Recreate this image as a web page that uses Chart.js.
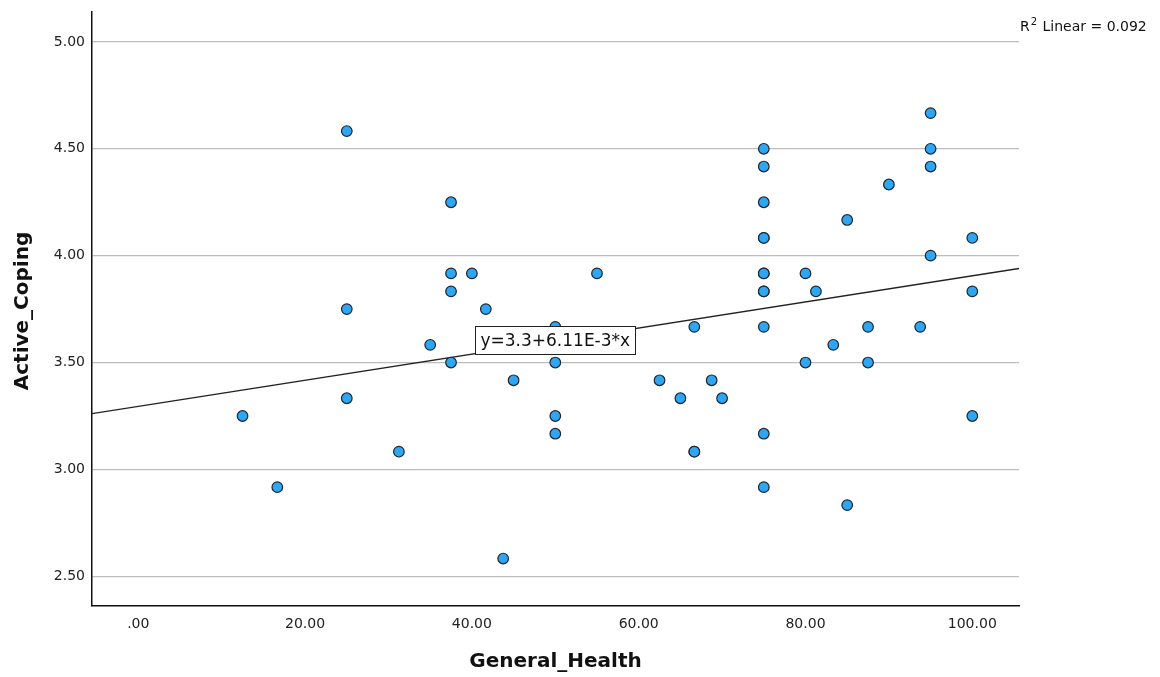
<!DOCTYPE html>
<html>
<head>
<meta charset="utf-8">
<script src="https://cdn.jsdelivr.net/npm/chart.js@4/dist/chart.umd.min.js"></script>
<style>
  html, body { margin: 0; padding: 0; background: #fff; }
  #wrap { width: 1160px; height: 677px; }
</style>
</head>
<body>
<div id="wrap"><canvas id="chart"></canvas></div>
<script>
"use strict";

// General_Health (x) / Active_Coping (y)
const healthX = [12.5, 16.67, 25, 25, 25, 31.25, 35, 37.5, 37.5, 37.5, 37.5, 40, 41.67, 43.75, 45,
  50, 50, 50, 50, 55, 62.5, 65, 66.67, 66.67, 66.67, 68.75, 70,
  75, 75, 75, 75, 75, 75, 75, 75, 75, 75, 75, 75,
  80, 80, 81.25, 83.33, 85, 85, 87.5, 87.5, 90, 93.75, 95, 95, 95, 95, 100, 100, 100];
const copingY = [3.25, 2.917, 4.583, 3.75, 3.333, 3.083, 3.583, 4.25, 3.917, 3.833, 3.5, 3.917, 3.75, 2.583, 3.417,
  3.667, 3.5, 3.25, 3.167, 3.917, 3.417, 3.333, 3.667, 3.083, 3.083, 3.417, 3.333,
  4.5, 4.417, 4.25, 4.083, 4.083, 3.917, 3.917, 3.833, 3.833, 3.667, 3.167, 2.917,
  3.917, 3.5, 3.833, 3.583, 4.167, 2.833, 3.667, 3.5, 4.333, 3.667, 4.667, 4.5, 4.417, 4.0, 4.083, 3.833, 3.25];

// fit line ends (y=3.3+6.11E-3*x) at the axis edges
const fitX = [-5.55, 105.6];
const fitY = [3.261, 3.940];

const xTicks = [0, 20, 40, 60, 80, 100];
const yTicks = [2.5, 3.0, 3.5, 4.0, 4.5, 5.0];
const xRange = [-5.55, 105.6];
const yRange = [2.361, 5.14];

const fitLabel = "y=3.3+6.11E-3*x";
const fitLabelAt = [50, 3.605];
const r2Text = "0.092";

function fmt(v) {
  let s = v.toFixed(2);
  return s.startsWith("0.") ? s.slice(1) : s;
}

const extras = {
  id: "extras",
  afterDatasetsDraw(chart) {
    const ctx = chart.ctx;
    const xs = chart.scales.x, ys = chart.scales.y;
    ctx.save();
    // equation box
    ctx.font = "17px 'DejaVu Sans'";
    const w = ctx.measureText(fitLabel).width;
    const cx = xs.getPixelForValue(fitLabelAt[0]);
    const cy = ys.getPixelForValue(fitLabelAt[1]);
    const bw = w + 10, bh = 28;
    ctx.fillStyle = "#fff";
    ctx.fillRect(cx - bw / 2, cy - bh / 2, bw, bh);
    ctx.strokeStyle = "#222";
    ctx.lineWidth = 1;
    ctx.strokeRect(Math.round(cx - bw / 2) + 0.5, Math.round(cy - bh / 2) + 0.5, Math.round(bw), bh);
    ctx.fillStyle = "#111";
    ctx.textAlign = "center";
    ctx.textBaseline = "middle";
    ctx.fillText(fitLabel, cx, cy + 1);

    // R2 note top right
    ctx.textAlign = "left";
    ctx.textBaseline = "alphabetic";
    ctx.fillStyle = "#111";
    let x = 1020, y = 31;
    ctx.font = "14px 'DejaVu Sans'";
    ctx.fillText("R", x, y);
    x += ctx.measureText("R").width + 1;
    ctx.font = "10px 'DejaVu Sans'";
    ctx.fillText("2", x, y - 6);
    x += ctx.measureText("2").width + 1;
    ctx.font = "14px 'DejaVu Sans'";
    ctx.fillText(" Linear = " + r2Text, x, y);

    // axis titles
    ctx.font = "bold 20px 'DejaVu Sans'";
    ctx.textAlign = "center";
    ctx.textBaseline = "middle";
    ctx.fillText("General_Health", (chart.chartArea.left + chart.chartArea.right) / 2, 662);
    ctx.translate(23, 311);
    ctx.rotate(-Math.PI / 2);
    ctx.fillText("Active_Coping", 0, 0);
    ctx.restore();
  }
};

new Chart("chart", {
  type: "scatter",
  data: {
    datasets: [{
      type: "line",
      data: fitX.map((x, i) => ({x: x, y: fitY[i]})),
      borderColor: "#222",
      borderWidth: 1.3,
      pointRadius: 0,
      fill: false,
      order: 2
    }, {
      data: healthX.map((x, i) => ({x: x, y: copingY[i]})),
      backgroundColor: "#2ea6f4",
      borderColor: "#1c2630",
      borderWidth: 1.2,
      pointRadius: 5.3,
      order: 1
    }]
  },
  options: {
    responsive: true,
    maintainAspectRatio: false,
    animation: false,
    layout: { padding: { left: 0, top: 12, right: 141, bottom: 0 } },
    plugins: { legend: { display: false }, tooltip: { enabled: false } },
    scales: {
      x: {
        type: "linear",
        min: xRange[0],
        max: xRange[1],
        afterBuildTicks: (s) => { s.ticks = xTicks.map(v => ({value: v})); },
        afterFit: (s) => { s.height = 71; s.paddingLeft = 0; s.paddingRight = 0; },
        grid: { display: false, drawTicks: false },
        border: { display: true, color: "#111", width: 1.5 },
        ticks: {
          padding: 10,
          color: "#222",
          font: { family: "'DejaVu Sans'", size: 14 },
          callback: (v) => fmt(v),
          maxRotation: 0,
          autoSkip: false
        }
      },
      y: {
        type: "linear",
        min: yRange[0],
        max: yRange[1],
        afterBuildTicks: (s) => { s.ticks = yTicks.map(v => ({value: v})); },
        afterFit: (s) => { s.width = 92; s.paddingTop = 0; s.paddingBottom = 0; },
        grid: { display: true, drawTicks: false, color: "#bdbdbd", lineWidth: 1.3 },
        border: { display: true, color: "#111", width: 1.5 },
        ticks: {
          padding: 7,
          color: "#222",
          font: { family: "'DejaVu Sans'", size: 14 },
          callback: (v) => fmt(v),
          autoSkip: false
        }
      }
    }
  },
  plugins: [extras]
});
</script>
</body>
</html>
